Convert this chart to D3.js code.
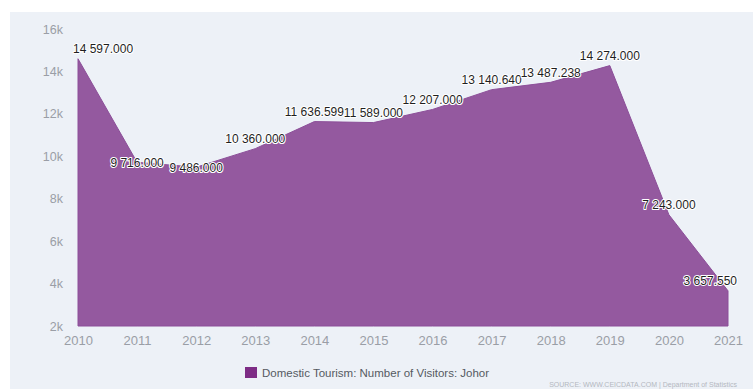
<!DOCTYPE html>
<html>
<head>
<meta charset="utf-8">
<script src="https://cdn.jsdelivr.net/npm/d3@7/dist/d3.min.js"></script>
<style>
  html, body { margin: 0; padding: 0; background: #ffffff; }
  svg { display: block; font-family: "Liberation Sans", Arial, sans-serif; }
</style>
</head>
<body>
<svg id="chart" width="753" height="390"></svg>
<script>
// Domestic Tourism: Number of Visitors: Johor (thousands)
const years = [2010, 2011, 2012, 2013, 2014, 2015, 2016, 2017, 2018, 2019, 2020, 2021];
const visitors = [14597.000, 9716.000, 9486.000, 10360.000, 11636.599, 11589.000,
                  12207.000, 13140.640, 13487.238, 14274.000, 7243.000, 3657.550];
const yTicks = [2000, 4000, 6000, 8000, 10000, 12000, 14000, 16000];
const seriesName = "Domestic Tourism: Number of Visitors: Johor";
const sourceText = "SOURCE: WWW.CEICDATA.COM | Department of Statistics";

const W = 753, H = 390;
const plot = { left: 78, right: 728, top: 29, bottom: 326 };

const svg = d3.select("#chart");

// background panel
svg.append("rect").attr("x", 10).attr("y", 12).attr("width", W - 10).attr("height", H - 13)
  .attr("fill", "#edf1f7");

const x = d3.scaleLinear().domain([years[0], years[years.length - 1]]).range([plot.left, plot.right]);
const y = d3.scaleLinear().domain([2000, 16000]).range([plot.bottom, plot.top]);

const data = years.map((yr, i) => ({ year: yr, value: visitors[i] }));

// filled area
const area = d3.area()
  .x(d => x(d.year))
  .y0(y(2000))
  .y1(d => y(d.value));

svg.append("path").datum(data)
  .attr("d", area)
  .attr("fill", "#94599f")
  .attr("stroke", "#8c4f99")
  .attr("stroke-width", 1);

// y axis
const yAxis = d3.axisLeft(y).tickValues(yTicks).tickSize(0).tickPadding(0)
  .tickFormat(d => (d / 1000) + "k");
const gy = svg.append("g").attr("transform", `translate(${plot.left - 15},0)`).call(yAxis);
gy.select(".domain").remove();
gy.selectAll("text").attr("fill", "#9a9ea6").style("font-size", "12.5px")
  .style("font-family", "'Liberation Sans', Arial, sans-serif");

// x axis
const xAxis = d3.axisBottom(x).tickValues(years).tickSize(0).tickPadding(0)
  .tickFormat(d3.format("d"));
const gx = svg.append("g").attr("transform", `translate(0,${plot.bottom + 10})`).call(xAxis);
gx.select(".domain").remove();
gx.selectAll("text").attr("fill", "#9a9ea6").style("font-size", "13px")
  .style("font-family", "'Liberation Sans', Arial, sans-serif");

// value labels
const fmt = v => {
  const s = d3.format(",.3f")(v);
  return s.replace(/,/g, " ");
};
const labelNudge = { 2011: 10, 2012: 11 };
const labels = svg.append("g").style("font-size", "12px");
labels.selectAll("text").data(data).join("text")
  .text(d => fmt(d.value))
  .attr("y", d => y(d.value) - 10 + (labelNudge[d.year] || 0))
  .attr("dy", "0.35em")
  .attr("fill", "#1f1f1f")
  .attr("stroke", "#ffffff")
  .attr("stroke-width", 2)
  .attr("stroke-linejoin", "round")
  .attr("paint-order", "stroke")
  .attr("text-anchor", "middle")
  .each(function(d) {
    const w = this.getComputedTextLength();
    let cx = x(d.year);
    cx = Math.max(plot.left - 5 + w / 2, Math.min(plot.right + 9 - w / 2, cx));
    d3.select(this).attr("x", cx);
  });

// legend
const legend = svg.append("g").attr("transform", "translate(245,367)");
legend.append("rect").attr("width", 12).attr("height", 11).attr("fill", "#7d2c85");
legend.append("text").attr("x", 17).attr("y", 6).attr("dy", "0.35em")
  .attr("fill", "#555a62").style("font-size", "11.5px").text(seriesName);

// source
svg.append("text").attr("x", 737).attr("y", 387).attr("text-anchor", "end")
  .attr("fill", "#b4b8bf").style("font-size", "7px").text(sourceText);
</script>
</body>
</html>
